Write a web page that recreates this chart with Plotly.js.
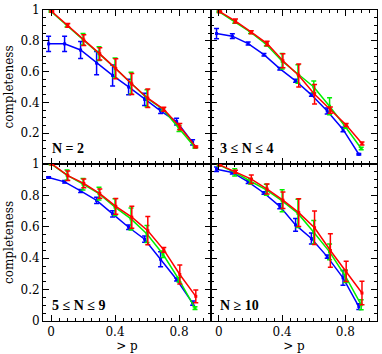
<!DOCTYPE html>
<html>
<head>
<meta charset="utf-8">
<script src="https://cdn.plot.ly/plotly-3.0.1.min.js"></script>
<style>
  html, body { margin: 0; padding: 0; background: white; }
  #graph { width: 382px; height: 354px; }
</style>
</head>
<body>
<div id="graph"></div>
<script>
// x positions (each colour is slightly shifted, as in the original)
var xBlue = [-0.015, 0.085, 0.185, 0.285, 0.385, 0.485, 0.585, 0.685, 0.785, 0.885];
var xGreen = [0, 0.1, 0.2, 0.3, 0.4, 0.5, 0.6, 0.7, 0.8, 0.9];
var xRed = [0.005, 0.105, 0.205, 0.305, 0.405, 0.505, 0.605, 0.705, 0.805, 0.905];

// N = 2
var n2Blue = [0.78, 0.78, 0.74, 0.655, 0.575, 0.50, 0.42, 0.345, 0.275, 0.14];
var n2BlueErr = [0.05, 0.05, 0.055, 0.075, 0.068, 0.05, 0.04, 0.017, 0.022, 0.017];
var n2Green = [0.99, 0.90, 0.81, 0.717, 0.623, 0.525, 0.427, 0.355, 0.23, 0.107];
var n2GreenErr = [0.005, 0.01, 0.037, 0.045, 0.065, 0.07, 0.055, 0.01, 0.02, 0.005];
var n2Red = [0.99, 0.90, 0.804, 0.715, 0.619, 0.519, 0.427, 0.355, 0.242, 0.111];
var n2RedErr = [0.005, 0.012, 0.035, 0.04, 0.065, 0.068, 0.06, 0.013, 0.02, 0.005];

// 3 <= N <= 4
var n34Blue = [0.847, 0.83, 0.782, 0.71, 0.619, 0.54, 0.449, 0.344, 0.224, 0.063];
var n34BlueErr = [0.033, 0.015, 0.01, 0.008, 0.008, 0.01, 0.01, 0.02, 0.015, 0.005];
var n34Green = [0.989, 0.924, 0.856, 0.776, 0.667, 0.584, 0.50, 0.375, 0.242, 0.10];
var n34GreenErr = [0.005, 0.01, 0.008, 0.01, 0.05, 0.06, 0.038, 0.055, 0.01, 0.008];
var n34Red = [0.989, 0.928, 0.856, 0.782, 0.67, 0.575, 0.453, 0.35, 0.253, 0.133];
var n34RedErr = [0.005, 0.013, 0.01, 0.015, 0.045, 0.075, 0.063, 0.02, 0.01, 0.01];

// 5 <= N <= 9
var n59Blue = [0.914, 0.886, 0.828, 0.768, 0.682, 0.597, 0.521, 0.393, 0.264, 0.114];
var n59BlueErr = [0.005, 0.008, 0.01, 0.02, 0.02, 0.015, 0.02, 0.048, 0.01, 0.013];
var n59Green = [1.0, 0.929, 0.871, 0.811, 0.725, 0.65, 0.554, 0.425, 0.264, 0.082];
var n59GreenErr = [0.005, 0.032, 0.037, 0.04, 0.053, 0.07, 0.054, 0.02, 0.015, 0.008];
var n59Red = [1.0, 0.925, 0.876, 0.811, 0.73, 0.661, 0.575, 0.453, 0.296, 0.157];
var n59RedErr = [0.005, 0.03, 0.028, 0.03, 0.05, 0.07, 0.09, 0.015, 0.06, 0.04];

// N >= 10
var n10Blue = [0.966, 0.946, 0.886, 0.815, 0.73, 0.612, 0.525, 0.41, 0.275, 0.092];
var n10BlueErr = [0.014, 0.01, 0.01, 0.008, 0.016, 0.04, 0.035, 0.01, 0.047, 0.018];
var n10Green = [0.994, 0.946, 0.89, 0.835, 0.765, 0.685, 0.565, 0.44, 0.285, 0.103];
var n10GreenErr = [0.008, 0.023, 0.018, 0.035, 0.07, 0.09, 0.075, 0.05, 0.04, 0.032];
var n10Red = [0.994, 0.95, 0.903, 0.84, 0.769, 0.69, 0.594, 0.449, 0.316, 0.178];
var n10RedErr = [0.005, 0.01, 0.027, 0.032, 0.053, 0.088, 0.107, 0.106, 0.065, 0.075];

var panelLabels = ["N = 2", "3 \u2264 N \u2264 4", "5 \u2264 N \u2264 9", "N \u2265 10"];
var xTicks = [0, 0.4, 0.8];
var yTicksTop = [0.2, 0.4, 0.6, 0.8, 1];
var yTicksBottom = [0, 0.2, 0.4, 0.6, 0.8, 1];

var blue = "#0000ff", green = "#00f000", red = "#ff0000";
var serif = "DejaVu Serif";

function series(x, y, err, color, xa, ya) {
    return {
        x: x, y: y,
        xaxis: xa, yaxis: ya,
        mode: "lines+markers",
        line: { color: color, width: 1.5 },
        marker: { color: color, size: 3, symbol: "square" },
        error_y: { type: "data", array: err, color: color, thickness: 1.5, width: 2.5 },
        showlegend: false,
        hoverinfo: "skip"
    };
}

var data = [
    series(xBlue, n2Blue, n2BlueErr, blue, "x", "y"),
    series(xGreen, n2Green, n2GreenErr, green, "x", "y"),
    series(xRed, n2Red, n2RedErr, red, "x", "y"),
    series(xBlue, n34Blue, n34BlueErr, blue, "x2", "y2"),
    series(xGreen, n34Green, n34GreenErr, green, "x2", "y2"),
    series(xRed, n34Red, n34RedErr, red, "x2", "y2"),
    series(xBlue, n59Blue, n59BlueErr, blue, "x3", "y3"),
    series(xGreen, n59Green, n59GreenErr, green, "x3", "y3"),
    series(xRed, n59Red, n59RedErr, red, "x3", "y3"),
    series(xBlue, n10Blue, n10BlueErr, blue, "x4", "y4"),
    series(xGreen, n10Green, n10GreenErr, green, "x4", "y4"),
    series(xRed, n10Red, n10RedErr, red, "x4", "y4")
];

function xAxis(domain, anchor, labels) {
    return {
        domain: domain, anchor: anchor,
        range: [-0.05, 1.0],
        showline: true, linecolor: "black", linewidth: 1, mirror: "ticks",
        ticks: "inside", ticklen: 6, tickcolor: "black", tickwidth: 1,
        tickvals: xTicks, ticktext: xTicks.map(String),
        minor: { dtick: 0.05, tick0: 0, ticks: "inside", ticklen: 3, tickcolor: "black" },
        showticklabels: labels,
        tickfont: { family: serif, size: 12, color: "black" },
        title: labels ? { text: "> p", font: { family: serif, size: 12, color: "black" }, standoff: 2 } : { text: "" },
        showgrid: false, zeroline: false, fixedrange: true
    };
}

function yAxis(domain, anchor, ticks, labels) {
    return {
        domain: domain, anchor: anchor,
        range: [0, 1],
        showline: true, linecolor: "black", linewidth: 1, mirror: "ticks",
        ticks: "inside", ticklen: 6, tickcolor: "black", tickwidth: 1,
        tickvals: ticks, ticktext: ticks.map(String),
        minor: { dtick: 0.05, tick0: 0, ticks: "inside", ticklen: 3, tickcolor: "black" },
        showticklabels: labels,
        tickfont: { family: serif, size: 12, color: "black" },
        title: labels ? { text: "completeness", font: { family: serif, size: 12, color: "black" }, standoff: 4 } : { text: "" },
        showgrid: false, zeroline: false, fixedrange: true
    };
}

var colLeft = [0, 0.503], colRight = [0.503, 1];
var rowTop = [0.505, 1], rowBottom = [0, 0.505];

var annotations = [];
var refs = [["x", "y"], ["x2", "y2"], ["x3", "y3"], ["x4", "y4"]];
for (var i = 0; i < panelLabels.length; i++) {
    annotations.push({
        text: panelLabels[i],
        xref: refs[i][0] + " domain", yref: refs[i][1] + " domain",
        x: 0.04, y: 0.04, xanchor: "left", yanchor: "bottom",
        showarrow: false,
        font: { family: "Liberation Serif", size: 14, color: "black", weight: "bold" }
    });
}

var layout = {
    width: 382, height: 354,
    margin: { l: 43, r: 5, t: 10, b: 33 },
    paper_bgcolor: "white", plot_bgcolor: "white",
    font: { family: serif, size: 12, color: "black" },
    xaxis: xAxis(colLeft, "y", false),
    yaxis: yAxis(rowTop, "x", yTicksTop, true),
    xaxis2: xAxis(colRight, "y2", false),
    yaxis2: yAxis(rowTop, "x2", yTicksTop, false),
    xaxis3: xAxis(colLeft, "y3", true),
    yaxis3: yAxis(rowBottom, "x3", yTicksBottom, true),
    xaxis4: xAxis(colRight, "y4", true),
    yaxis4: yAxis(rowBottom, "x4", yTicksBottom, false),
    annotations: annotations
};

Plotly.newPlot("graph", data, layout, { staticPlot: true });
</script>
</body>
</html>
